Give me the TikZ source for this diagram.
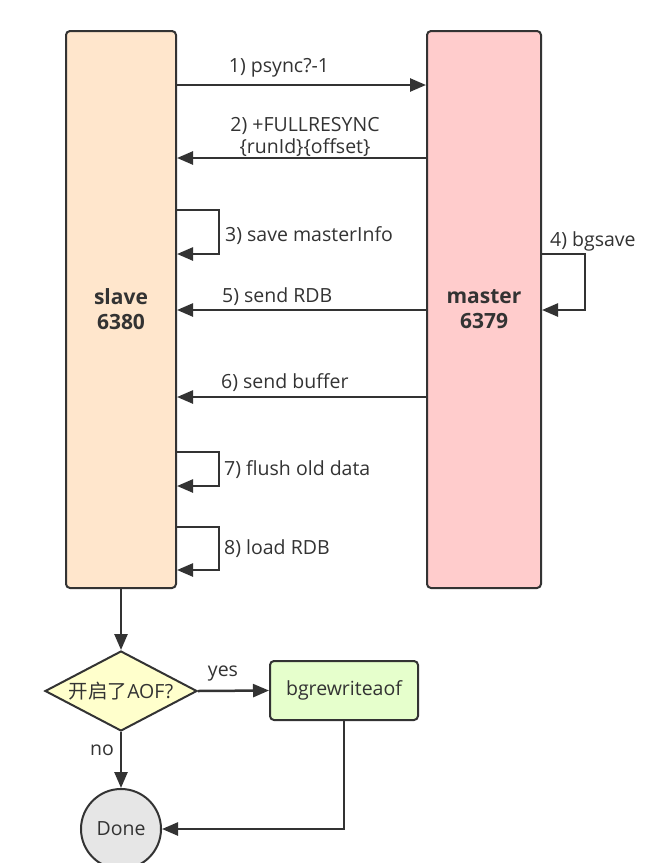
\documentclass[tikz,border=0pt]{standalone}
\usepackage{fontspec}
\setmainfont{Open Sans}
\newfontfamily\cjk{Noto Sans CJK SC}
\usetikzlibrary{arrows.meta,shapes.geometric,calc}
\definecolor{ink}{HTML}{333333}
\definecolor{slavefill}{HTML}{FFE6CC}
\definecolor{masterfill}{HTML}{FFCCCC}
\definecolor{condfill}{HTML}{FFFFCC}
\definecolor{greenfill}{HTML}{E6FFCC}
\definecolor{donefill}{HTML}{E6E6E6}
\tikzset{
  boxstyle/.style={draw=ink, line width=2pt, rounded corners=4pt, inner sep=0pt, text=ink, align=center},
  arr/.style={draw=ink, line width=2.5pt, -{Triangle[length=16pt,width=13pt]}},
  lbl/.style={text=ink, font=\fontsize{19.5}{22}\selectfont, inner sep=0pt},
  bigbold/.style={font=\bfseries\fontsize{21}{25}\selectfont},
}
\begin{document}
\begin{tikzpicture}[x=1pt,y=-1pt]
\useasboundingbox (0,0) rectangle (663,863);
\fill[white] (0,0) rectangle (663,863);
% main boxes
\node[boxstyle, fill=slavefill, minimum width=110, minimum height=557, bigbold] (slave) at (121,309.5) {slave\\6380};
\node[boxstyle, fill=masterfill, minimum width=114, minimum height=557, bigbold] (master) at (484,309.5) {master\\6379};
% y-levels
\coordinate (y1) at (0,85);
\coordinate (y2) at (0,158);
\coordinate (y3a) at (0,210);
\coordinate (y3b) at (0,254);
\coordinate (y4a) at (0,254);
\coordinate (y4b) at (0,310);
\coordinate (y5) at (0,310);
\coordinate (y6) at (0,397);
\coordinate (y7a) at (0,452);
\coordinate (y7b) at (0,486);
\coordinate (y8a) at (0,527);
\coordinate (y8b) at (0,570);
% messages
\draw[arr] (slave.east |- y1) -- (master.west |- y1);
\node[lbl] (l1) at (279,68) {1) psync?-1};
\draw[arr] (master.west |- y2) -- (slave.east |- y2);
\node[lbl] (l2a) at (305,126) {2) +FULLRESYNC};
\node[lbl] (l2b) at (305,148) {\{runId\}\{offset\}};
\draw[arr] (slave.east |- y3a) -- ++(42,0) |- (slave.east |- y3b);
\node[lbl, anchor=west] (l3) at (225,236) {3) save masterInfo};
\draw[arr] (master.east |- y4a) -- ++(43,0) |- (master.east |- y4b);
\node[lbl, anchor=west] (l4) at (550,241) {4) bgsave};
\draw[arr] (master.west |- y5) -- (slave.east |- y5);
\node[lbl, anchor=west] (l5) at (222,297) {5) send RDB};
\draw[arr] (master.west |- y6) -- (slave.east |- y6);
\node[lbl, anchor=west] (l6) at (221,383) {6) send buffer};
\draw[arr] (slave.east |- y7a) -- ++(42,0) |- (slave.east |- y7b);
\node[lbl, anchor=west] (l7) at (224,470) {7) flush old data};
\draw[arr] (slave.east |- y8a) -- ++(42,0) |- (slave.east |- y8b);
\node[lbl, anchor=west] (l8) at (224,549) {8) load RDB};
% flow
\node[diamond, draw=ink, line width=2pt, fill=condfill, aspect=1.9, minimum width=152, minimum height=80, inner sep=0pt, text=ink,
  font=\fontsize{19.5}{22}\selectfont] (cond) at (121,691) {{\cjk 开启了}AOF?};
\node[boxstyle, fill=greenfill, minimum width=148, minimum height=59,
  font=\fontsize{19.5}{22}\selectfont] (bgr) at (344,690.5) {bgrewriteaof};
\node[circle, draw=ink, line width=2pt, fill=donefill, minimum size=80, inner sep=0pt, text=ink,
  font=\fontsize{19.5}{22}\selectfont] (done) at (121,829) {Done};
\draw[arr] (slave.south) -- (cond.north);
\draw[arr] (cond.east) -- (bgr.west);
\node[lbl] (yes) at (223,674) {yes};
\draw[arr] (cond.south) -- (done.north);
\node[lbl] (no) at (102,750) {no};
\draw[arr] (bgr.south) |- (done.east);
\end{tikzpicture}
\end{document}
